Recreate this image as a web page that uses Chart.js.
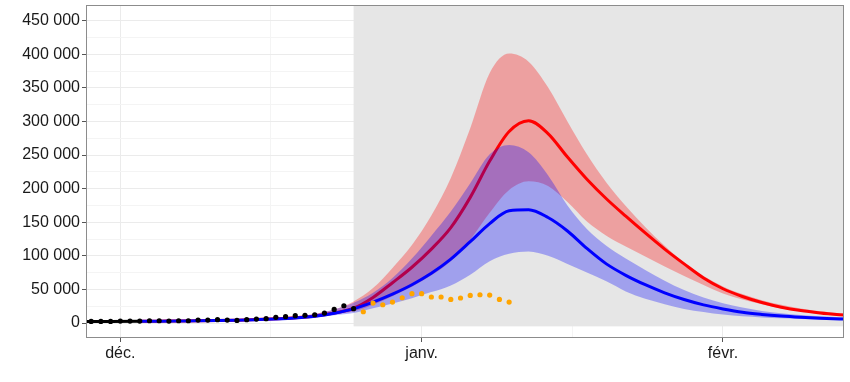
<!DOCTYPE html>
<html>
<head>
<meta charset="utf-8">
<script src="https://cdn.jsdelivr.net/npm/chart.js@4"></script>
<style>
  html, body { margin: 0; padding: 0; background: #fff; }
  #wrap { width: 850px; height: 382px; }
</style>
</head>
<body>
<div id="wrap"><canvas id="chart"></canvas></div>
<script>
// jours comptés depuis le 1er décembre (0 = 1 déc., 31 = 1 janv., 62 = 1 févr.)
const monthTicks = [0, 31, 62];
const monthLabels = ['déc.', 'janv.', 'févr.'];
const minorDayTicks = [15.5, 46.5];
const yTicks = [0, 25000, 50000, 75000, 100000, 125000, 150000, 175000, 200000, 225000,
                250000, 275000, 300000, 325000, 350000, 375000, 400000, 425000, 450000];

// observations (points noirs)
const obsDays = [-3, -2, -1, 0, 1, 2, 3, 4, 5, 6, 7, 8, 9, 10, 11, 12, 13, 14, 15, 16, 17, 18, 19, 20, 21, 22, 23, 24];
const obsValues = [2400, 2400, 2400, 2900, 2900, 2900, 3400, 3400, 2900, 3400, 3400, 4400, 4400, 4900,
                   4400, 3900, 4900, 5900, 6400, 8400, 9400, 10900, 11400, 12300, 14800, 20300, 25700, 21300];

// observations récentes (points orange)
const recentDays = [25, 26, 27, 28, 29, 30, 31, 32, 33, 34, 35, 36, 37, 38, 39, 40];
const recentValues = [16800, 29700, 27200, 31200, 37600, 43600, 43600, 38700, 38700, 35100,
                      37200, 41000, 42100, 41600, 35100, 31200];

// ajustement passé (ligne noire)
const fitDays = [-4, -1, 2];
const fitValues = [2400, 2400, 2600];

// scénarios : moyennes
const modelDays = [2, 4, 6, 8, 10, 12, 14, 16, 18, 20, 22, 24, 26, 28, 30, 32, 34, 36, 38, 40,
                   42, 44, 46, 48, 50, 52, 54, 56, 58, 60, 62, 64, 66, 68, 70, 72, 74, 76];
const redMean = [2600, 2800, 3000, 3300, 3700, 4300, 5100, 6200, 7800, 10500, 15000, 22000, 38000,
                 60000, 83000, 110000, 142000, 187000, 241000, 285000, 301000, 282000, 247000, 214000,
                 185000, 159000, 134000, 110000, 88000, 67000, 51000, 39500, 30500, 23500, 18500,
                 15000, 12300, 10000];
const blueMean = [2600, 2800, 3000, 3200, 3600, 4200, 5000, 6000, 7500, 10000, 14500, 21000, 31000,
                  43000, 57000, 74000, 95000, 121000, 148000, 167000, 168500, 157000, 137000, 111000,
                  88000, 71000, 57000, 45000, 35000, 27000, 21000, 16000, 12800, 10400, 8600, 7200,
                  6100, 5200];

// scénarios : intervalles
const bandDays = [16, 18, 20, 22, 24, 26, 28, 30, 32, 34, 36, 38, 40, 42, 44, 46, 48, 50, 52, 54,
                  56, 58, 60, 62, 64, 66, 68, 70, 72, 74, 76];
const redUpper = [7000, 9500, 13500, 20000, 32000, 52000, 82000, 116000, 160000, 216000, 290000,
                  372000, 401000, 389000, 351000, 300000, 251000, 209000, 174000, 143000, 115000,
                  90000, 70000, 54500, 43000, 34000, 27000, 21500, 17500, 14500, 12000];
const redLower = [5500, 7000, 9500, 13000, 17000, 27000, 40000, 54000, 71000, 92000, 124000, 164000,
                  198000, 211000, 204000, 180000, 151000, 130000, 114000, 99000, 84000, 70000,
                  56500, 44000, 35000, 27800, 21600, 17700, 14600, 12000, 10000];
const blueUpper = [7000, 9500, 13500, 20000, 30000, 45000, 67000, 96000, 130000, 166000, 208000,
                   251000, 265000, 254000, 220000, 175000, 140000, 115000, 96000, 79000, 63000,
                   49000, 38000, 29500, 23000, 18000, 14500, 11800, 10000, 8600, 7400];
const blueLower = [5000, 6000, 8000, 11500, 15000, 22000, 29000, 37000, 46000, 56000, 72000, 92000,
                   103000, 106500, 100000, 88000, 75000, 62000, 47000, 36000, 28000, 21000, 16500,
                   12500, 10000, 8300, 7000, 6000, 5400, 4900, 4500];

const forecastStart = 24;
const shadeBottom = -5000;

const toXY = (xs, ys) => xs.map((x, i) => ({ x, y: ys[i] }));
const fmt = v => String(v).replace(/\B(?=(\d{3})+(?!\d))/g, ' ');
const isMajorY = v => v % 50000 === 0;
const isMonth = v => monthTicks.includes(v);

const shadePlugin = {
  id: 'shade',
  beforeDatasetsDraw(chart) {
    const { ctx, chartArea, scales } = chart;
    const left = scales.x.getPixelForValue(forecastStart);
    const bottom = scales.y.getPixelForValue(shadeBottom);
    ctx.save();
    ctx.fillStyle = '#e6e6e6';
    ctx.fillRect(left, chartArea.top, chartArea.right - left, bottom - chartArea.top);
    ctx.restore();
  },
  afterDraw(chart) {
    const { ctx, chartArea } = chart;
    ctx.save();
    ctx.strokeStyle = '#8c8c8c';
    ctx.lineWidth = 1;
    ctx.strokeRect(chartArea.left + 0.5, chartArea.top + 0.5,
                   chartArea.right - chartArea.left - 1, chartArea.bottom - chartArea.top - 1);
    ctx.restore();
  }
};

const hidden = { borderWidth: 0, borderColor: 'rgba(0,0,0,0)', pointRadius: 0 };
const tickFont = { family: '"Liberation Sans", Arial, sans-serif', size: 16 };

new Chart(document.getElementById('chart'), {
  type: 'line',
  data: {
    datasets: [
      { ...hidden, data: toXY(bandDays, redUpper), fill: 1, backgroundColor: 'rgba(255,0,0,0.3)',
        cubicInterpolationMode: 'monotone', order: 5 },
      { ...hidden, data: toXY(bandDays, redLower), fill: false, cubicInterpolationMode: 'monotone', order: 6 },
      { data: toXY(modelDays, redMean), borderColor: '#ff0000', borderWidth: 3, pointRadius: 0,
        fill: false, cubicInterpolationMode: 'monotone', order: 4 },
      { ...hidden, data: toXY(bandDays, blueUpper), fill: 4, backgroundColor: 'rgba(0,0,255,0.3)',
        cubicInterpolationMode: 'monotone', order: 3 },
      { ...hidden, data: toXY(bandDays, blueLower), fill: false, cubicInterpolationMode: 'monotone', order: 6 },
      { data: toXY(modelDays, blueMean), borderColor: '#0000ff', borderWidth: 3, pointRadius: 0,
        fill: false, cubicInterpolationMode: 'monotone', order: 2 },
      { data: toXY(fitDays, fitValues), borderColor: '#000', borderWidth: 3, pointRadius: 0,
        fill: false, order: 1 },
      { data: toXY(obsDays, obsValues), showLine: false, pointRadius: 2.6, pointBorderWidth: 0,
        pointBackgroundColor: '#000', order: 0 },
      { data: toXY(recentDays, recentValues), showLine: false, pointRadius: 2.6, pointBorderWidth: 0,
        pointBackgroundColor: '#ffa500', order: 0 }
    ]
  },
  options: {
    responsive: true,
    maintainAspectRatio: false,
    animation: false,
    events: [],
    layout: { padding: { top: 5, right: 6, left: 0, bottom: 0 } },
    plugins: { legend: { display: false }, tooltip: { enabled: false } },
    scales: {
      x: {
        type: 'linear',
        min: -3.53,
        max: 74.45,
        afterFit: s => { s.height = 44; s.paddingLeft = 0; s.paddingRight = 0; },
        afterBuildTicks: s => {
          s.ticks = [...monthTicks, ...minorDayTicks].sort((a, b) => a - b).map(v => ({ value: v }));
        },
        ticks: {
          autoSkip: false,
          maxRotation: 0,
          padding: 2,
          color: '#1a1a1a',
          font: tickFont,
          callback: v => (isMonth(v) ? monthLabels[monthTicks.indexOf(v)] : '')
        },
        grid: {
          color: c => (c.tick && isMonth(c.tick.value) ? '#ebebeb' : '#f4f4f4'),
          tickColor: c => (c.tick && isMonth(c.tick.value) ? '#555' : 'rgba(0,0,0,0)'),
          tickLength: 4
        },
        border: { display: false }
      },
      y: {
        min: -22300,
        max: 473300,
        afterFit: s => { s.width = 86; s.paddingTop = 0; s.paddingBottom = 0; },
        afterBuildTicks: s => { s.ticks = yTicks.map(v => ({ value: v })); },
        ticks: {
          autoSkip: false,
          padding: 2,
          color: '#1a1a1a',
          font: tickFont,
          callback: v => (isMajorY(v) ? fmt(v) : '')
        },
        grid: {
          color: c => (c.tick && isMajorY(c.tick.value) ? '#ebebeb' : '#f4f4f4'),
          tickColor: c => (c.tick && isMajorY(c.tick.value) ? '#555' : 'rgba(0,0,0,0)'),
          tickLength: 4
        },
        border: { display: false }
      }
    }
  },
  plugins: [shadePlugin]
});
</script>
</body>
</html>
